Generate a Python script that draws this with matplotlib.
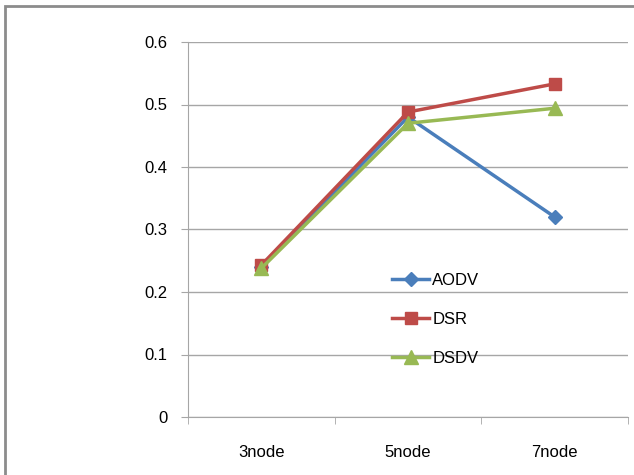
import numpy as np
import matplotlib.pyplot as plt
from matplotlib.patches import Rectangle

plt.rcParams['font.family'] = ['Liberation Sans Narrow', 'Liberation Sans', 'DejaVu Sans']

categories = ['3node', '5node', '7node']
aodv = [0.240, 0.480, 0.320]
dsr = [0.243, 0.488, 0.533]
dsdv = [0.238, 0.470, 0.494]

fig = plt.figure(figsize=(6.34, 4.75), dpi=100)
ax = fig.add_axes([188/634, 58/475, 440/634, 375/475])

# outer chart border
fig.patches.append(Rectangle((5/634, -0.1), 1.2, 1.1 - 6/475, transform=fig.transFigure,
                             fill=False, edgecolor='#8c8c8c', linewidth=2, clip_on=False))

x = np.arange(len(categories))
ax.plot(x, aodv, color='#4A7EBB', lw=2.5, marker='D', ms=7, label='AODV', zorder=3)
ax.plot(x, dsr, color='#BE4B48', lw=2.5, marker='s', ms=9, label='DSR', zorder=4)
ax.plot(x, dsdv, color='#98B954', lw=2.5, marker='^', ms=10, label='DSDV', zorder=5)

ax.set_xlim(-0.5, 2.5)
ax.set_ylim(0, 0.6)
ax.set_yticks(np.arange(0, 0.61, 0.1))
ax.set_yticklabels(['0', '0.1', '0.2', '0.3', '0.4', '0.5', '0.6'])
ax.grid(axis='y', color='#a6a6a6', lw=1)
ax.set_axisbelow(True)

ax.set_xticks(x)
ax.set_xticklabels(categories)
ax.set_xticks([-0.5, 0.5, 1.5, 2.5], minor=True)
ax.tick_params(axis='x', which='major', length=0, pad=20, labelsize=12)
ax.tick_params(axis='x', which='minor', length=5, color='#a6a6a6')
ax.tick_params(axis='y', length=5, color='#a6a6a6', labelsize=12, pad=10)

for side in ['top', 'right']:
    ax.spines[side].set_visible(False)
ax.spines['left'].set_color('#a6a6a6')
ax.spines['bottom'].set_color('#a6a6a6')

ax.legend(loc='upper left', bbox_to_anchor=(0.43, 0.425), frameon=False, fontsize=12,
          handlelength=2.2, labelspacing=1.45, handletextpad=0.2)

fig.savefig('out.png', dpi=100)
